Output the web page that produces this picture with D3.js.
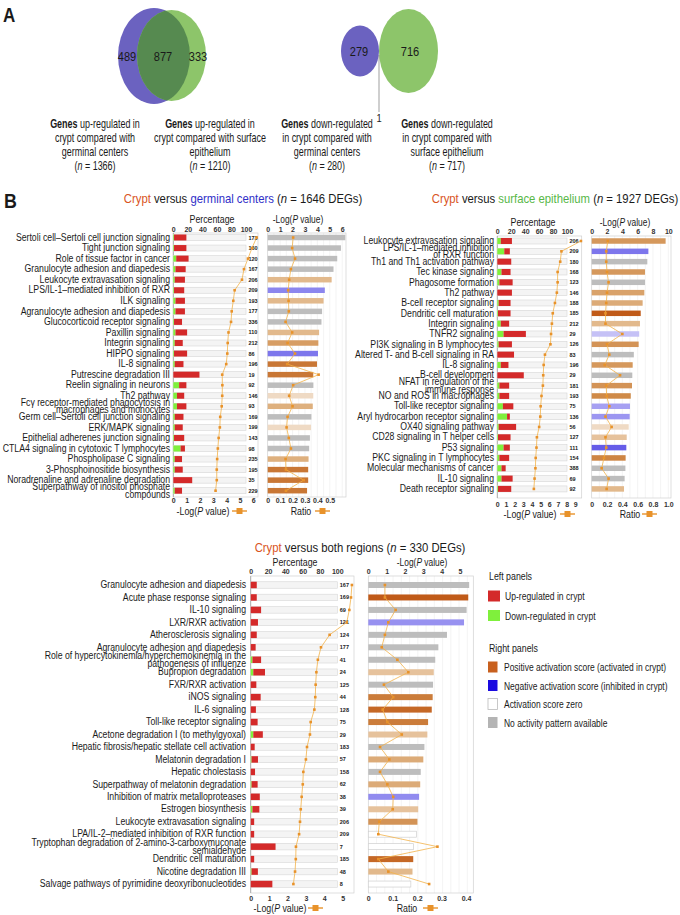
<!DOCTYPE html>
<html>
<head>
<meta charset="utf-8">
<script src="https://cdn.jsdelivr.net/npm/d3@7"></script>
<style>
  body { margin: 0; background: #fff; }
  svg text { font-family: "Liberation Sans", Arial, sans-serif; fill: #1a1a1a; }
</style>
</head>
<body>
<div id="chart"></div>
<script>
// ---------- data ----------
// Venn counts: [only left, overlap, only right]
const vennUp = [489, 877, 333];
const vennDown = [279, 716, 1];
const vennCaptions = [
  ["Genes| up-regulated in", "crypt compared with", "germinal centers", "(n = 1366)"],
  ["Genes| up-regulated in", "crypt compared with surface", "epithelium", "(n = 1210)"],
  ["Genes| down-regulated", "in crypt compared with", "germinal centers", "(n = 280)"],
  ["Genes| down-regulated", "in crypt compared with", "surface epithelium", "(n = 717)"]
];

// Crypt versus germinal centers
const gcNames = ["Sertoli cell–Sertoli cell junction signaling", "Tight junction signaling", "Role of tissue factor in cancer",
  "Granulocyte adhesion and diapedesis", "Leukocyte extravasation signaling", "LPS/IL-1–mediated inhibition of RXR", "ILK signaling",
  "Agranulocyte adhesion and diapedesis", "Glucocorticoid receptor signaling", "Paxillin signaling", "Integrin signaling",
  "HIPPO signaling", "IL-8 signaling", "Putrescine degradation III", "Reelin signaling in neurons", "Th2 pathway",
  "Fcγ receptor-mediated phagocytosis in\nmacrophages and monocytes", "Germ cell–Sertoli cell junction signaling", "ERK/MAPK signaling",
  "Epithelial adherenes junction signaling", "CTLA4 signaling in cytotoxic T lymphocytes", "Phospholipase C signaling",
  "3-Phosphoinositide biosynthesis", "Noradrenaline and adrenaline degradation", "Superpathway of inositol phosphate\ncompounds"];
const gcCounts = [173, 160, 120, 167, 206, 209, 193, 177, 336, 110, 212, 86, 196, 19, 92, 146, 93, 169, 199, 143, 98, 235, 195, 35, 229];
const gcDown = [1, 1, 4, 3, 2, 1, 3, 3, 1, 3, 2, 1, 2, 0, 8, 5, 5, 2, 2, 1, 10, 2, 2, 0, 2];
const gcUp = [17, 17, 17, 14, 14, 14, 13, 13, 11, 16, 11, 18, 12, 36, 10, 10, 13, 12, 11, 14, 6, 10, 11, 26, 10];
const gcLogP = [6.25, 5.9, 5.6, 5.3, 5.15, 4.6, 4.5, 4.38, 4.33, 4.14, 4.08, 4.05, 3.97, 3.67, 3.68, 3.67, 3.63, 3.52, 3.49, 3.4, 3.34, 3.29, 3.26, 3.26, 3.17];
const gcRatio = [0.205, 0.197, 0.22, 0.187, 0.173, 0.165, 0.168, 0.17, 0.144, 0.197, 0.16, 0.22, 0.157, 0.41, 0.205, 0.173, 0.2, 0.16, 0.152, 0.17, 0.187, 0.144, 0.147, 0.29, 0.147];
const gcZ = [null, null, null, null, 1.0, -1.7, 1.0, null, null, 1.0, 1.6, -2.0, 2.4, 2.4, null, 0.3, 1.2, null, 0.3, null, null, 1.2, 2.4, 2.4, 2.4];

// Crypt versus surface epithelium
const seNames = ["Leukocyte extravasation signaling", "LPS/IL-1–mediated inhibition\nof RXR function", "Th1 and Th1 activation pathway",
  "Tec kinase signaling", "Phagosome formation", "Th2 pathway", "B-cell receptor signaling", "Dendritic cell maturation",
  "Integrin signaling", "TNFR2 signaling", "PI3K signaling in B lymphocytes", "Altered T- and B-cell signaling in RA", "IL-8 signaling",
  "B-cell development", "NFAT in regulation of the\nimmune response", "NO and ROS in macrophages", "Toll-like receptor signaling",
  "Aryl hydrocarbon receptor signaling", "OX40 signaling pathway", "CD28 signaling in T helper cells", "P53 signaling",
  "PKC signaling in T lymphocytes", "Molecular mechanisms of cancer", "IL-10 signaling", "Death receptor signaling"];
const seCounts = [206, 209, 180, 168, 123, 146, 188, 185, 212, 29, 126, 83, 196, 29, 181, 193, 75, 136, 56, 127, 111, 154, 388, 69, 92];
const seDown = [5, 10, 0, 6, 3, 0, 2, 1, 5, 9, 2, 0, 5, 0, 3, 3, 8, 14, 2, 1, 9, 3, 6, 6, 1];
const seUp = [16, 8, 20, 13, 19, 21, 17, 18, 12, 32, 19, 24, 11, 38, 14, 14, 15, 4, 25, 18, 9, 14, 6, 16, 19];
const seLogP = [9.65, 7.4, 7.26, 6.96, 6.96, 6.87, 6.65, 6.4, 6.3, 6.2, 6.13, 5.5, 5.35, 5.3, 5.26, 5.1, 5.0, 4.96, 4.83, 4.57, 4.52, 4.43, 4.4, 4.3, 4.22];
const seRatio = [0.21, 0.19, 0.19, 0.2, 0.22, 0.2, 0.19, 0.18, 0.18, 0.4, 0.2, 0.23, 0.17, 0.37, 0.19, 0.195, 0.23, 0.18, 0.26, 0.18, 0.19, 0.16, 0.13, 0.22, 0.195];
const seZ = [1.7, -2.0, null, 1.7, null, 1.5, 1.3, 3.0, 1.0, -0.6, 1.8, null, 1.7, null, 1.8, 2.0, -1.2, -1.4, 0.3, 0.8, -2.3, 2.1, null, null, 1.0];

// Crypt versus both regions
const bothNames = ["Granulocyte adhesion and diapedesis", "Acute phase response signaling", "IL-10 signaling", "LXR/RXR activation",
  "Atherosclerosis signaling", "Agranulocyte adhesion and diapedesis",
  "Role of hypercytokinemia/hyperchemokinemia in the\npathogenesis of influenze", "Bupropion degradation", "FXR/RXR activation",
  "iNOS signaling", "IL-6 signaling", "Toll-like receptor signaling", "Acetone degradation I (to methylgyoxal)",
  "Hepatic fibrosis/hepatic stellate cell activation", "Melatonin degradation I", "Hepatic cholestasis",
  "Superpathway of melatonin degradation", "Inhibition of matrix metalloproteases", "Estrogen biosynthesis",
  "Leukocyte extravasation signaling", "LPA/IL-2–mediated inhibition of RXR function",
  "Tryptophan degradation of 2-amino-3-carboxymuconate\nsemialdehyde", "Dendritic cell maturation", "Nicotine degradation III",
  "Salvage pathways of pyrimidine deoxyribonucleotides"];
const bothCounts = [167, 169, 69, 121, 124, 177, 41, 24, 125, 44, 128, 75, 29, 183, 57, 158, 62, 38, 39, 206, 209, 7, 185, 48, 8];
const bothDown = [0, 0, 0, 0, 0, 0, 2, 3, 0, 0, 0, 0, 3, 0, 1, 0, 1, 0, 2, 0, 0, 0, 0, 1, 0];
const bothUp = [7, 7, 12, 8.4, 7, 5.7, 10, 13.5, 6.5, 11.5, 6, 8, 11, 4.6, 7.4, 5, 7, 10.5, 8, 4, 4, 28.7, 4, 7.3, 25];
const bothLogP = [5.5, 5.45, 5.36, 5.22, 4.29, 3.82, 3.65, 3.57, 3.53, 3.51, 3.46, 3.26, 3.22, 3.06, 3.0, 2.86, 2.83, 2.77, 2.72, 2.68, 2.63, 2.46, 2.45, 2.41, 2.32];
const bothRatio = [0.068, 0.068, 0.112, 0.082, 0.068, 0.055, 0.119, 0.164, 0.064, 0.102, 0.059, 0.078, 0.137, 0.048, 0.086, 0.048, 0.078, 0.102, 0.1, 0.045, 0.041, 0.283, 0.041, 0.082, 0.249];
const bothZ = [null, 3.0, null, -1.5, null, null, null, 0.8, null, 2.3, 2.7, 2.3, 0.8, null, 1.3, null, 1.3, -1.6, 0.8, 1.8, 0, 0, 2.7, 1.0, 0];

// ---------- colours ----------
const cCrypt = "#d9541e", cGC = "#3030c8", cSE = "#58b848";
const cUp = "#d42a2a", cDown = "#7ff03c", cLine = "#f2b24a", cMark = "#e8922a";
const orangeScale = d3.scaleLinear().domain([0, 1, 2, 3]).range(["#f4e8dc", "#e2b98c", "#cf8a48", "#c05a18"]);
const blueScale = d3.scaleLinear().domain([0, 1, 2, 3]).range(["#e4e2fa", "#b0abf4", "#7d76ec", "#2c20e0"]);
const barFill = z => z === null ? "#bdbdbd" : z === 0 ? "#fff" : z > 0 ? orangeScale(z) : blueScale(-z);

const svg = d3.select("#chart").append("svg")
    .attr("width", 680)
    .attr("height", 915);

// rich text helper: parts = [[text, style], ...]; k squeezes the text horizontally
function rich(g, x, y, parts, size, anchor, k) {
  const t = g.append("text")
      .attr("transform", `translate(${x},${y}) scale(${k || 0.8},1)`)
      .attr("text-anchor", anchor || "middle")
      .attr("dominant-baseline", "central")
      .style("font-size", size + "px");
  parts.forEach(([s, st]) => {
    const sp = t.append("tspan").text(s);
    if (st && st.fill) sp.style("fill", st.fill);
    if (st && st.italic) sp.style("font-style", "italic");
    if (st && st.bold) sp.style("font-weight", "bold");
  });
  return t;
}

function lineIcon(g, x, y) {
  g.append("line").attr("x1", x).attr("x2", x + 15).attr("y1", y).attr("y2", y)
      .attr("stroke", cMark).attr("stroke-width", 1.4);
  g.append("rect").attr("x", x + 4.5).attr("y", y - 3).attr("width", 6).attr("height", 6).attr("fill", cMark);
}

// ---------- panel A: Venn diagrams ----------
const gA = svg.append("g");
rich(gA, 3, 14, [["A", { bold: true }]], 20, "start", 0.85);

const defs = svg.append("defs");
defs.append("clipPath").attr("id", "clipBlue")
  .append("ellipse").attr("cx", 154).attr("cy", 56).attr("rx", 36).attr("ry", 48);

gA.append("ellipse").attr("cx", 154).attr("cy", 56).attr("rx", 36).attr("ry", 48).attr("fill", "#6b62c0");
gA.append("ellipse").attr("cx", 171.5).attr("cy", 55.5).attr("rx", 34.5).attr("ry", 45.5).attr("fill", "#8dc56a");
gA.append("ellipse").attr("cx", 171.5).attr("cy", 55.5).attr("rx", 34.5).attr("ry", 45.5)
    .attr("fill", "#568a50").attr("clip-path", "url(#clipBlue)");

const vennNum = (x, y, v) => rich(gA, x, y, [[String(v)]], 13, "middle", 0.85);
vennNum(127, 57, vennUp[0]);
vennNum(163, 57, vennUp[1]);
vennNum(198, 57, vennUp[2]);

gA.append("ellipse").attr("cx", 360).attr("cy", 51).attr("rx", 19).attr("ry", 25.5).attr("fill", "#6b62c0");
gA.append("ellipse").attr("cx", 408.5).attr("cy", 51).attr("rx", 29.5).attr("ry", 42).attr("fill", "#8dc56a");
vennNum(359, 52, vennDown[0]);
vennNum(410, 52, vennDown[1]);
gA.append("line").attr("x1", 379).attr("x2", 379).attr("y1", 55).attr("y2", 112)
    .attr("stroke", "#777").attr("stroke-width", 0.7);
rich(gA, 379, 118, [[String(vennDown[2])]], 11, "middle", 0.85);

const capX = [95, 210, 327, 447];
vennCaptions.forEach((lines, i) => {
  lines.forEach((line, j) => {
    const y = 123.5 + j * 14;
    if (line.includes("|")) {
      const [b, rest] = line.split("|");
      rich(gA, capX[i], y, [[b, { bold: true }], [rest]], 12.3, "middle", 0.73);
    } else if (line.startsWith("(n")) {
      rich(gA, capX[i], y, [["("], ["n", { italic: true }], [line.slice(2)]], 12.3, "middle", 0.73);
    } else {
      rich(gA, capX[i], y, [[line]], 12.3, "middle", 0.73);
    }
  });
});

// ---------- panel B ----------
rich(svg, 4, 200, [["B", { bold: true }]], 21, "start", 0.85);

rich(svg, 243, 199, [["Crypt", { fill: cCrypt }], [" versus "], ["germinal centers", { fill: cGC }], [" ("], ["n", { italic: true }], [" = 1646 DEGs)"]], 13, "middle", 0.87);
rich(svg, 555, 199, [["Crypt", { fill: cCrypt }], [" versus "], ["surface epithelium", { fill: cSE }], [" ("], ["n", { italic: true }], [" = 1927 DEGs)"]], 13, "middle", 0.87);
rich(svg, 360, 548, [["Crypt", { fill: cCrypt }], [" versus both regions ("], ["n", { italic: true }], [" = 330 DEGs)"]], 13, "middle", 0.87);

function styleTicks(g) {
  g.select(".domain").remove();
  g.selectAll("text")
      .attr("y", 0).attr("dy", "0.35em")
      .style("font-size", "7px").style("font-weight", "bold").style("fill", "#333");
}

const fmtInt = d3.format("d");
const fmtRatio = d => d === 0 ? "0" : d3.format(".1f")(d);

function drawPanel(p) {
  const g = svg.append("g");
  const rows = p.names.map((name, i) => ({
    name, n: p.counts[i], down: p.down[i], up: p.up[i], logP: p.logP[i], ratio: p.ratio[i], z: p.z[i]
  }));

  const y = d3.scaleBand().domain(d3.range(rows.length))
      .range([p.y0 - p.step / 2, p.y0 + p.step * (rows.length - 0.5)]);
  const yc = i => y(i) + y.bandwidth() / 2;

  const xPct = d3.scaleLinear().domain([0, 100]).range([p.pctX0, p.pctX1]);
  const xLogL = d3.scaleLinear().domain([0, p.logMaxL]).range([p.pctX0, p.logX1L]);
  const xLogR = d3.scaleLinear().domain([0, p.logMaxR]).range([p.rX0, p.rX1]);
  const xRatio = d3.scaleLinear().domain([0, p.ratioMax]).range([p.rX0, p.ratioX1]);

  // frames
  g.append("rect").attr("x", p.pctX0).attr("y", p.top).attr("width", p.pctFrame - p.pctX0).attr("height", p.bottom - p.top)
      .attr("fill", "none").attr("stroke", "#d0d0d0").attr("stroke-width", 0.7);
  g.append("line").attr("x1", p.pctX0).attr("x2", p.pctX0).attr("y1", p.top).attr("y2", p.bottom)
      .attr("stroke", "#999").attr("stroke-width", 0.7);

  // right chart grid
  g.selectAll(".grid").data(d3.range(p.gridStep, p.logMaxR * 1.2, p.gridStep).filter(v => xLogR(v) < p.rFrame - 1))
    .join("line")
      .attr("x1", d => xLogR(d)).attr("x2", d => xLogR(d))
      .attr("y1", p.top).attr("y2", p.bottom)
      .attr("stroke", "#ececec").attr("stroke-width", 0.6);
  g.append("rect").attr("x", p.rX0).attr("y", p.top).attr("width", p.rFrame - p.rX0).attr("height", p.bottom - p.top)
      .attr("fill", "none").attr("stroke", "#d0d0d0").attr("stroke-width", 0.7);

  // labels
  rows.forEach((d, i) => {
    const lines = d.name.split("\n");
    lines.forEach((ln, j) => {
      rich(g, p.labelX, yc(i) + (j - (lines.length - 1) / 2) * p.lineGap, [[ln]], p.fontSize, "end", 0.87);
    });
  });

  // percentage bars
  const bh = p.barH;
  g.selectAll(".bg").data(rows).join("rect")
      .attr("x", xPct(0)).attr("y", (d, i) => yc(i) - bh / 2)
      .attr("width", xPct(100) - xPct(0)).attr("height", bh)
      .attr("fill", "#f4f4f4").attr("stroke", "#d6d6d6").attr("stroke-width", 0.6);
  g.selectAll(".dn").data(rows).join("rect")
      .attr("x", xPct(0)).attr("y", (d, i) => yc(i) - bh / 2)
      .attr("width", d => xPct(d.down) - xPct(0)).attr("height", bh)
      .attr("fill", cDown);
  g.selectAll(".upb").data(rows).join("rect")
      .attr("x", d => xPct(d.down)).attr("y", (d, i) => yc(i) - bh / 2)
      .attr("width", d => xPct(d.down + d.up) - xPct(d.down)).attr("height", bh)
      .attr("fill", cUp);
  g.selectAll(".cnt").data(rows).join("text")
      .attr("x", xPct(100) + 2.5).attr("y", (d, i) => yc(i))
      .attr("dominant-baseline", "central")
      .style("font-size", "5.5px").style("font-weight", "bold")
      .text(d => d.n);

  // -log(p) line over the percentage chart
  const lineL = d3.line().x(d => xLogL(d.logP)).y((d, i) => yc(i));
  g.append("path").datum(rows).attr("d", lineL)
      .attr("fill", "none").attr("stroke", cLine).attr("stroke-width", 0.8);
  g.selectAll(".mkL").data(rows).join("rect")
      .attr("x", d => xLogL(d.logP) - 1.3).attr("y", (d, i) => yc(i) - 1.3)
      .attr("width", 2.6).attr("height", 2.6).attr("fill", cMark);

  // right chart bars (-log p) coloured by activation z-score
  const rh = p.barHR;
  g.selectAll(".rb").data(rows).join("rect")
      .attr("x", xLogR(0)).attr("y", (d, i) => yc(i) - rh / 2)
      .attr("width", d => xLogR(d.logP) - xLogR(0)).attr("height", rh)
      .attr("fill", d => barFill(d.z))
      .attr("stroke", d => d.z === 0 ? "#cfcfcf" : "none").attr("stroke-width", 0.7);

  // ratio line
  const lineR = d3.line().x(d => xRatio(d.ratio)).y((d, i) => yc(i));
  g.append("path").datum(rows).attr("d", lineR)
      .attr("fill", "none").attr("stroke", cLine).attr("stroke-width", 0.8);
  g.selectAll(".mkR").data(rows).join("rect")
      .attr("x", d => xRatio(d.ratio) - 1.3).attr("y", (d, i) => yc(i) - 1.3)
      .attr("width", 2.6).attr("height", 2.6).attr("fill", cMark);

  // axes
  g.append("g").attr("transform", `translate(0,${p.topTickY})`)
      .call(d3.axisTop(xPct).tickValues([0, 20, 40, 60, 80, 100]).tickSize(0).tickFormat(fmtInt))
      .call(styleTicks);
  g.append("g").attr("transform", `translate(0,${p.botTickY})`)
      .call(d3.axisBottom(xLogL).tickValues(d3.range(0, p.logMaxL + 1)).tickSize(0).tickFormat(fmtInt))
      .call(styleTicks);
  g.append("g").attr("transform", `translate(0,${p.topTickY})`)
      .call(d3.axisTop(xLogR).tickValues(p.logTicksR).tickSize(0).tickFormat(fmtInt))
      .call(styleTicks);
  g.append("g").attr("transform", `translate(0,${p.botTickY})`)
      .call(d3.axisBottom(xRatio).tickValues(p.ratioTicks).tickSize(0).tickFormat(fmtRatio))
      .call(styleTicks);

  // axis titles
  rich(g, p.pctTitleX, p.titleY, [["Percentage"]], 11);
  rich(g, p.logTitleX, p.titleY, [["-Log("], ["P", { italic: true }], [" value)"]], 10.5);
  rich(g, p.botLogX, p.botTitleY, [["-Log("], ["P", { italic: true }], [" value)"]], 11);
  lineIcon(g, p.botLogIcon, p.botTitleY);
  rich(g, p.ratioX, p.botTitleY, [["Ratio"]], 11);
  lineIcon(g, p.ratioIcon, p.botTitleY);
}

drawPanel({
  names: gcNames, counts: gcCounts, down: gcDown, up: gcUp, logP: gcLogP, ratio: gcRatio, z: gcZ,
  labelX: 170, y0: 237.5, step: 10.55, fontSize: 10, lineGap: 7.4, barH: 6, barHR: 5.5,
  pctX0: 173.3, pctX1: 246, logMaxL: 6, logX1L: 253.3, pctFrame: 258,
  rX0: 267.7, rX1: 342.2, logMaxR: 6, ratioMax: 0.6, ratioX1: 342.2, rFrame: 346, gridStep: 0.5,
  logTicksR: [0, 1, 2, 3, 4, 5, 6], ratioTicks: [0, 0.1, 0.2, 0.3, 0.4, 0.5],
  top: 233, bottom: 497, topTickY: 229.5, botTickY: 501,
  titleY: 219, botTitleY: 511, pctTitleX: 212, logTitleX: 298,
  botLogX: 203, botLogIcon: 232, ratioX: 301, ratioIcon: 315
});

drawPanel({
  names: seNames, counts: seCounts, down: seDown, up: seUp, logP: seLogP, ratio: seRatio, z: seZ,
  labelX: 494, y0: 241, step: 10.33, fontSize: 10, lineGap: 7.4, barH: 6, barHR: 5.5,
  pctX0: 497.3, pctX1: 567, logMaxL: 9, logX1L: 575.3, pctFrame: 581.7,
  rX0: 591.7, rX1: 668.3, logMaxR: 10, ratioMax: 1.0, ratioX1: 668.3, rFrame: 671, gridStep: 1,
  logTicksR: [0, 2, 4, 6, 8, 10], ratioTicks: [0, 0.2, 0.4, 0.6, 0.8, 1.0],
  top: 236, bottom: 498, topTickY: 232, botTickY: 505,
  titleY: 222, botTitleY: 514, pctTitleX: 533, logTitleX: 625,
  botLogX: 530, botLogIcon: 560, ratioX: 630, ratioIcon: 642
});

drawPanel({
  names: bothNames, counts: bothCounts, down: bothDown, up: bothUp, logP: bothLogP, ratio: bothRatio, z: bothZ,
  labelX: 246, y0: 585, step: 12.46, fontSize: 10, lineGap: 7.4, barH: 6.5, barHR: 6,
  pctX0: 250.7, pctX1: 337.3, logMaxL: 5, logX1L: 342.7, pctFrame: 354,
  rX0: 368.3, rX1: 460, logMaxR: 5, ratioMax: 0.4, ratioX1: 466, rFrame: 473.3, gridStep: 0.45,
  logTicksR: [0, 1, 2, 3, 4, 5], ratioTicks: [0, 0.1, 0.2, 0.3, 0.4],
  top: 576, bottom: 893, topTickY: 572, botTickY: 899,
  titleY: 562, botTitleY: 908, pctTitleX: 295, logTitleX: 422,
  botLogX: 280, botLogIcon: 308, ratioX: 407, ratioIcon: 423
});

// ---------- legend ----------
const lg = svg.append("g");
const legendLeft = [["Up-regulated in crypt", cUp], ["Down-regulated in crypt", cDown]];
const legendRight = [["Positive activation score (activated in crypt)", "#c8601e"], ["Negative activation score (inhibited in crypt)", "#1a0ae0"],
  ["Activation score zero", "#fff"], ["No activity pattern available", "#b4b4b4"]];
rich(lg, 489, 576, [["Left panels"]], 11, "start", 0.8);
legendLeft.forEach(([t, c], i) => {
  const yy = 596 + i * 19.5;
  lg.append("rect").attr("x", 488).attr("y", yy - 5.5).attr("width", 12).attr("height", 11).attr("fill", c);
  rich(lg, 505, yy, [[t]], 11, "start", 0.78);
});
rich(lg, 489, 648, [["Right panels"]], 11, "start", 0.8);
legendRight.forEach(([t, c], i) => {
  const yy = 667 + i * 18.5;
  lg.append("rect").attr("x", 488).attr("y", yy - 5.5).attr("width", 9.5).attr("height", 11).attr("fill", c)
      .attr("stroke", c === "#fff" ? "#bbb" : "none").attr("stroke-width", 0.8);
  rich(lg, 504, yy, [[t]], 11, "start", 0.77);
});
</script>
</body>
</html>
